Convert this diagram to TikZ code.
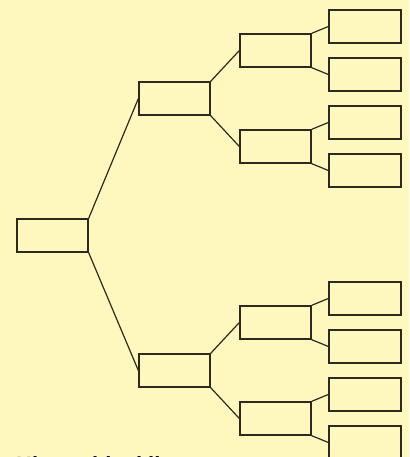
\documentclass[tikz,border=0pt]{standalone}
\usepackage{fontspec}
\setsansfont{Liberation Sans}
\usepackage{xcolor}
\usetikzlibrary{positioning}
\definecolor{paperYellow}{RGB}{255,248,190}
\definecolor{inkDark}{RGB}{45,40,32}
\tikzset{
    treebox/.style={
        rectangle,
        draw=inkDark,
        line width=1.3pt,
        fill=paperYellow,
        minimum width=71pt,
        minimum height=33pt,
        inner sep=0pt
    },
    leafbox/.style={
        treebox,
        minimum width=72pt
    },
    branch/.style={draw=inkDark, line width=1.2pt},
    caption/.style={anchor=base west, inner sep=0pt, font=\sffamily\bfseries\fontsize{22}{26}\selectfont}
}

\begin{document}
\begin{tikzpicture}[x=1pt, y=-1pt]
        \fill[paperYellow] (0,0) rectangle (409,457);
        \useasboundingbox (0,0) rectangle (409,457);

        \node[treebox] (root) at (52.5,235.5) {};

        \node[treebox] (up) at (174.5,98.5) {};
        \node[treebox] (down) at (174.5,370.5) {};

        \node[treebox] (upA) at (275.5,50.5) {};
        \node[treebox] (upB) at (275.5,146.5) {};
        \node[treebox] (downA) at (275.5,322.5) {};
        \node[treebox] (downB) at (275.5,418.5) {};

        \node[leafbox] (upA1) at (365,26.5) {};
        \node[leafbox] (upA2) at (365,74.5) {};
        \node[leafbox] (upB1) at (365,122.5) {};
        \node[leafbox] (upB2) at (365,170.5) {};
        \node[leafbox] (downA1) at (365,298.5) {};
        \node[leafbox] (downA2) at (365,346.5) {};
        \node[leafbox] (downB1) at (365,394.5) {};
        \node[leafbox] (downB2) at (365,442.5) {};

        \draw[branch] (root.north east) -- (up.west);
        \draw[branch] (root.south east) -- (down.west);
        \draw[branch] (up.north east) -- (upA.west);
        \draw[branch] (up.south east) -- (upB.west);
        \draw[branch] (down.north east) -- (downA.west);
        \draw[branch] (down.south east) -- (downB.west);
        \draw[branch] (upA.north east) -- (upA1.west);
        \draw[branch] (upA.south east) -- (upA2.west);
        \draw[branch] (upB.north east) -- (upB1.west);
        \draw[branch] (upB.south east) -- (upB2.west);
        \draw[branch] (downA.north east) -- (downA1.west);
        \draw[branch] (downA.south east) -- (downA2.west);
        \draw[branch] (downB.north east) -- (downB1.west);
        \draw[branch] (downB.south east) -- (downB2.west);

        \node[caption] (title) at (16,472) {Hierarchical list};
    \end{tikzpicture}
\end{document}
